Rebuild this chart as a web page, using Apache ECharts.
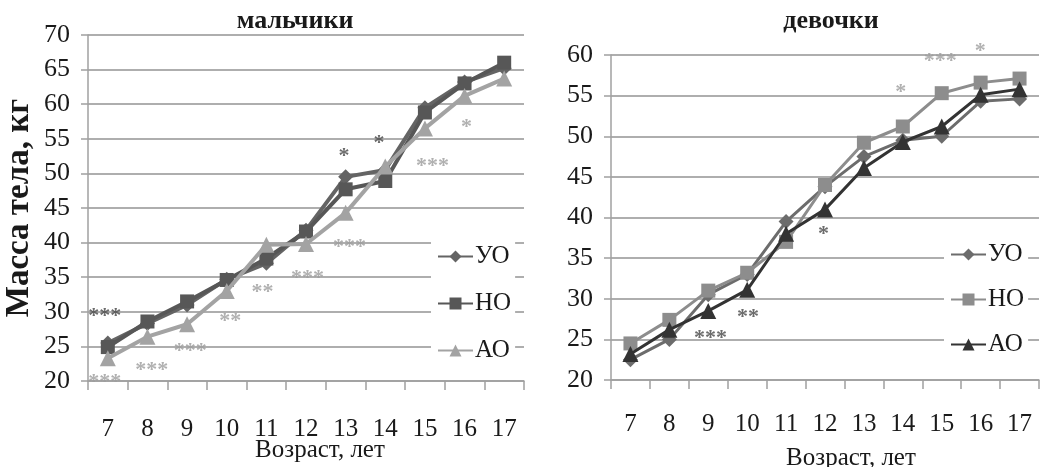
<!DOCTYPE html>
<html>
<head>
<meta charset="utf-8">
<script src="https://cdn.jsdelivr.net/npm/echarts@6/dist/echarts.min.js"></script>
<style>
  html, body { margin: 0; padding: 0; background: #fff; }
  #chart { width: 1053px; height: 467px; }
</style>
</head>
<body>
<div id="chart"></div>
<script>
// Age groups (years)
const ages = ['7', '8', '9', '10', '11', '12', '13', '14', '15', '16', '17'];

// Body mass, kg — boys
const boysUO = [25.5, 28.3, 31.0, 34.7, 37.0, 41.8, 49.5, 50.5, 59.5, 63.2, 65.2];
const boysNO = [24.9, 28.6, 31.5, 34.6, 37.7, 41.6, 47.7, 48.9, 58.8, 63.0, 66.0];
const boysAO = [23.3, 26.4, 28.2, 33.0, 39.7, 39.8, 44.3, 51.0, 56.5, 61.2, 63.7];

// Body mass, kg — girls
const girlsUO = [22.5, 25.0, 30.5, 33.0, 39.5, 43.8, 47.5, 49.5, 50.0, 54.3, 54.6];
const girlsNO = [24.5, 27.4, 31.0, 33.2, 37.0, 44.0, 49.2, 51.2, 55.3, 56.6, 57.1];
const girlsAO = [23.2, 26.2, 28.5, 31.1, 38.0, 41.0, 46.1, 49.3, 51.2, 55.1, 55.8];

// Significance marks: [age position, kg, text, tone]
const boysMarks = [
  [6.92, 30.0, '***', 'dark'],
  [6.92, 20.6, '***', 'light'],
  [8.11, 22.3, '***', 'light'],
  [9.08, 25.0, '***', 'light'],
  [10.09, 29.3, '**', 'light'],
  [10.9, 33.6, '**', 'light'],
  [12.04, 35.6, '***', 'light'],
  [13.1, 40.0, '***', 'light'],
  [12.96, 53.2, '*', 'dark'],
  [13.84, 55.0, '*', 'dark'],
  [15.19, 51.7, '***', 'light'],
  [16.05, 57.4, '*', 'light']
];
const girlsMarks = [
  [13.95, 56.0, '*', 'light'],
  [14.96, 59.8, '***', 'light'],
  [15.99, 61.1, '*', 'light'],
  [11.96, 38.6, '*', 'dark'],
  [9.06, 25.7, '***', 'dark'],
  [10.02, 28.3, '**', 'dark']
];

const seriesNames = ['УО', 'НО', 'АО'];
const FONT = 'Liberation Serif';
const toneColor = { light: '#9c9c9c', dark: '#474747' };

const panels = [
  {
    key: 'boys', title: 'мальчики', titleX: 290,
    grid: { left: 88, top: 35, width: 436, height: 346 },
    yMax: 70, yName: 'Масса тела, кг',
    values: [boysUO, boysNO, boysAO],
    colors: ['#646464', '#575757', '#a3a3a3'],
    symbols: ['diamond', 'rect', 'triangle'],
    lineWidth: 4,
    marks: boysMarks,
    legendLeft: 431, legendTop: 238, legendGap: 22,
    labelMargin: 36, nameGap: 57, namePad: 28
  },
  {
    key: 'girls', title: 'девочки', titleX: 826,
    grid: { left: 611, top: 55, width: 428, height: 325 },
    yMax: 60, yName: '',
    values: [girlsUO, girlsNO, girlsAO],
    colors: ['#6c6c6c', '#8d8d8d', '#333333'],
    symbols: ['diamond', 'rect', 'triangle'],
    lineWidth: 3,
    marks: girlsMarks,
    legendLeft: 944, legendTop: 236, legendGap: 20,
    labelMargin: 32, nameGap: 66, namePad: 52
  }
];

const option = {
  backgroundColor: '#ffffff',
  animation: false,
  title: [], grid: [], xAxis: [], yAxis: [], legend: [], series: []
};

panels.forEach((p, i) => {
  option.title.push({
    text: p.title, left: p.titleX, top: 3, textAlign: 'center',
    textStyle: { fontFamily: FONT, fontWeight: 'bold', fontSize: 26, color: '#1a1a1a' }
  });
  option.grid.push(Object.assign({ containLabel: false, outerBoundsMode: 'none' }, p.grid));
  // category axis for the series
  option.xAxis.push({
    type: 'category', gridIndex: i, data: ages, boundaryGap: true,
    name: 'Возраст, лет', nameLocation: 'middle', nameGap: p.nameGap,
    nameMoveOverlap: false,
    nameTextStyle: { fontFamily: FONT, fontSize: 25, color: '#1a1a1a', padding: [0, 0, 0, p.namePad] },
    axisLine: { lineStyle: { color: '#a0a0a0', width: 1.5 } },
    axisTick: { show: true, length: 9, interval: 0, lineStyle: { color: '#a0a0a0', width: 1.5 } },
    axisLabel: { fontFamily: FONT, fontSize: 25, color: '#1a1a1a', margin: p.labelMargin, interval: 0 },
    splitLine: { show: false }
  });
  // hidden value axis used to place significance marks between ages
  option.xAxis.push({
    type: 'value', gridIndex: i, min: 6.5, max: 17.5, show: false
  });
  option.yAxis.push({
    type: 'value', gridIndex: i, min: 20, max: p.yMax, interval: 5,
    name: p.yName, nameLocation: 'middle', nameGap: 52, nameRotate: 90,
    nameMoveOverlap: false,
    nameTextStyle: { fontFamily: FONT, fontWeight: 'bold', fontSize: 33, color: '#1a1a1a' },
    axisLine: { show: true, lineStyle: { color: '#a0a0a0', width: 1.5 } },
    axisTick: { show: true, length: 7, lineStyle: { color: '#a0a0a0', width: 1.5 } },
    axisLabel: { fontFamily: FONT, fontSize: 26, color: '#1a1a1a', margin: 18 },
    splitLine: { lineStyle: { color: '#939393', width: 1.7 } }
  });
  option.legend.push({
    orient: 'vertical', left: p.legendLeft, top: p.legendTop,
    data: seriesNames.map(n => ({ name: p.key + '|' + n })),
    formatter: name => name.split('|')[1],
    backgroundColor: '#ffffff',
    padding: [6, 4, 6, 6],
    itemWidth: 35, itemHeight: 15, itemGap: p.legendGap,
    textStyle: { fontFamily: FONT, fontSize: 25, color: '#1a1a1a', lineHeight: 25, padding: [0, 0, 0, -3] },
    selectedMode: false
  });
  seriesNames.forEach((name, k) => {
    const sym = p.symbols[k];
    option.series.push({
      type: 'line', name: p.key + '|' + name,
      xAxisIndex: i * 2, yAxisIndex: i,
      data: p.values[k],
      symbol: sym,
      symbolSize: sym === 'triangle' ? 16 : (sym === 'rect' ? 14 : 15),
      lineStyle: { color: p.colors[k], width: p.lineWidth },
      itemStyle: { color: p.colors[k] },
      z: 3 + k
    });
  });
  option.series.push({
    type: 'scatter', name: p.key + '|marks',
    xAxisIndex: i * 2 + 1, yAxisIndex: i,
    clip: false, silent: true,
    symbolSize: 1,
    itemStyle: { color: 'rgba(0,0,0,0)' },
    data: p.marks.map(m => ({
      value: [m[0], m[1]],
      label: {
        show: true, position: 'inside', formatter: m[2], offset: [0, 5],
        fontFamily: FONT, fontWeight: 'bold', fontSize: 22, color: toneColor[m[3]]
      }
    })),
    z: 10
  });
});

const chart = echarts.init(document.getElementById('chart'), null, { renderer: 'canvas' });
chart.setOption(option);
</script>
</body>
</html>
